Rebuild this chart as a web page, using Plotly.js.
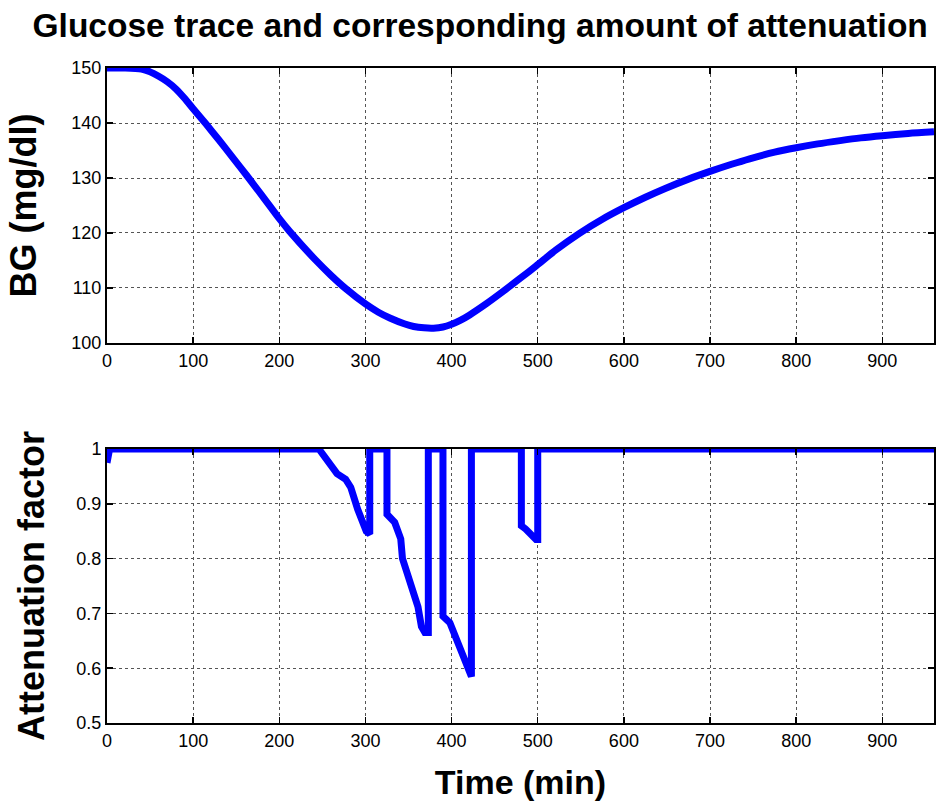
<!DOCTYPE html>
<html>
<head>
<meta charset="utf-8">
<script src="https://cdn.plot.ly/plotly-3.0.1.min.js"></script>
<style>html,body{margin:0;padding:0;background:#fff;}#chart{width:949px;height:804px;}</style>
</head>
<body>
<div id="chart"></div>
<script>
// Blood glucose trace (top panel)
const bgTime = [0, 20, 40, 50, 60, 70, 80, 90, 100, 115, 130, 146, 162, 180, 200, 212, 242, 260, 277, 300, 315, 329, 345, 356, 368, 379, 390, 400, 410, 421, 440, 460, 480, 498, 521, 548, 575, 600, 625, 648, 675, 700, 725, 746, 775, 800, 825, 851, 875, 900, 930, 960];
const bgValue = [150, 150, 149.8, 149.3, 148.5, 147.5, 146.2, 144.5, 142.6, 139.8, 136.9, 133.7, 130.5, 126.8, 122.6, 120.3, 115.1, 112.3, 109.9, 107.1, 105.6, 104.5, 103.5, 103.0, 102.75, 102.7, 102.9, 103.4, 104.1, 105.1, 107.1, 109.4, 111.8, 114.0, 116.9, 119.9, 122.5, 124.6, 126.5, 128.1, 129.8, 131.2, 132.5, 133.5, 134.7, 135.5, 136.2, 136.8, 137.3, 137.7, 138.1, 138.4];

// Attenuation factor (bottom panel)
const attTime = [0, 3, 246, 259, 267, 277, 283, 291, 296, 301, 305, 305, 325, 325, 334, 341, 343, 353, 361, 365, 369, 373, 373, 390, 390, 398, 404, 412, 418, 423, 423, 481, 481, 486, 498, 500, 500, 960];
const attValue = [0.975, 1, 1, 0.97, 0.955, 0.945, 0.93, 0.89, 0.866, 0.85, 0.845, 1, 1, 0.881, 0.866, 0.836, 0.8, 0.755, 0.712, 0.676, 0.665, 0.665, 1, 1, 0.695, 0.683, 0.659, 0.622, 0.598, 0.585, 1, 1, 0.86, 0.854, 0.835, 0.835, 1, 1];

const xTicks = [0, 100, 200, 300, 400, 500, 600, 700, 800, 900];
const bgTicks = [100, 110, 120, 130, 140, 150];
const attTicks = [0.5, 0.6, 0.7, 0.8, 0.9, 1];

const titleText = 'Glucose trace and corresponding amount of attenuation';
const bgLabel = 'BG (mg/dl)';
const attLabel = 'Attenuation factor';
const timeLabel = 'Time (min)';

const FONT = 'Liberation Sans, Arial, sans-serif';

const traces = [
  {x: bgTime, y: bgValue, type: 'scatter', mode: 'lines', line: {color: '#0000ff', width: 7, shape: 'spline', smoothing: 0.8}, xaxis: 'x', yaxis: 'y', showlegend: false},
  {x: attTime, y: attValue, type: 'scatter', mode: 'lines', line: {color: '#0000ff', width: 7}, xaxis: 'x2', yaxis: 'y2', showlegend: false}
];

const axisCommon = {
  showline: true, linecolor: '#000', linewidth: 2, mirror: 'allticks',
  ticks: 'inside', ticklen: 6, tickwidth: 1.5, tickcolor: '#000',
  showgrid: true, gridcolor: '#555', griddash: 'dot', gridwidth: 1,
  zeroline: false, tickfont: {family: FONT, size: 18, color: '#000'}
};

const layout = {
  width: 949, height: 804,
  paper_bgcolor: '#fff', plot_bgcolor: '#fff',
  margin: {l: 107, r: 15, t: 0, b: 0},
  title: {text: titleText, font: {family: FONT, size: 33.5, weight: 'bold', color: '#000'}, x: 0.506, xanchor: 'center', y: 0.969, yanchor: 'middle', yref: 'container'},
  xaxis: Object.assign({}, axisCommon, {range: [0, 960], tickvals: xTicks, domain: [0, 1], anchor: 'y'}),
  yaxis: Object.assign({}, axisCommon, {range: [100, 150], tickvals: bgTicks, domain: [0.5734, 0.9154], anchor: 'x',
    title: {text: bgLabel, standoff: 24, font: {family: FONT, size: 36, weight: 'bold', color: '#000'}}}),
  xaxis2: Object.assign({}, axisCommon, {range: [0, 960], tickvals: xTicks, domain: [0, 1], anchor: 'y2',
    title: {text: timeLabel, standoff: 21, font: {family: FONT, size: 34, weight: 'bold', color: '#000'}}}),
  yaxis2: Object.assign({}, axisCommon, {range: [0.5, 1], tickvals: attTicks, domain: [0.1007, 0.4415], anchor: 'x2',
    title: {text: attLabel, standoff: 21, font: {family: FONT, size: 36, weight: 'bold', color: '#000'}}})
};

Plotly.newPlot('chart', traces, layout, {displayModeBar: false, staticPlot: true});
</script>
</body>
</html>
